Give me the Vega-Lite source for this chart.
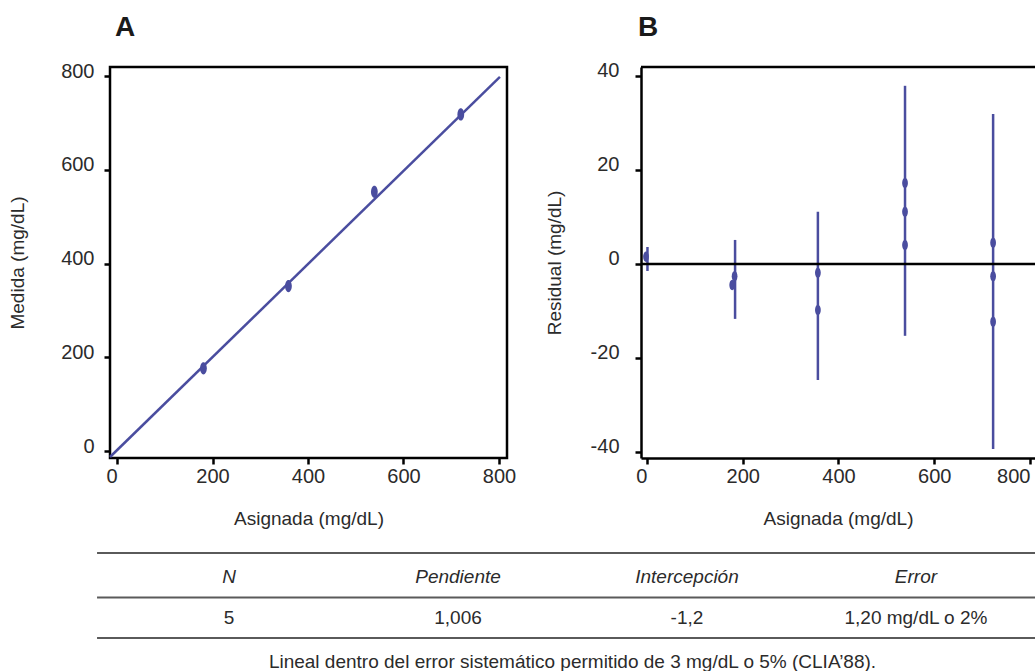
{
  "$schema": "https://vega.github.io/schema/vega-lite/v6.json",
  "background": "white",
  "padding": {"left": 7, "top": 12, "right": 0, "bottom": 0},
  "config": {
    "font": "Liberation Sans",
    "view": {"stroke": null},
    "axis": {
      "labelFont": "Liberation Sans",
      "titleFont": "Liberation Sans",
      "labelFontSize": 20,
      "titleFontSize": 19,
      "titleFontWeight": "normal",
      "labelColor": "#2b2b2b",
      "titleColor": "#2b2b2b",
      "tickColor": "black",
      "tickWidth": 2.5,
      "tickSize": 6,
      "domainColor": "black",
      "domainWidth": 2.5,
      "grid": false,
      "labelExpr": "'' + datum.value"
    }
  },
  "datasets": {
    "ajuste": [
      {"asignada": -14.7, "medida": -12.8},
      {"asignada": 802, "medida": 798}
    ],
    "medidas": [
      {"asignada": 181, "medida": 176.4},
      {"asignada": 359, "medida": 352},
      {"asignada": 539, "medida": 553},
      {"asignada": 720, "medida": 718}
    ],
    "residuales": [
      {"asignada": -2, "residual": 1.5},
      {"asignada": 183, "residual": -2.6},
      {"asignada": 178, "residual": -4.5},
      {"asignada": 357, "residual": -1.9},
      {"asignada": 357, "residual": -9.8},
      {"asignada": 539, "residual": 17.2},
      {"asignada": 539, "residual": 11.1},
      {"asignada": 539, "residual": 4.0},
      {"asignada": 723, "residual": 4.5},
      {"asignada": 723, "residual": -2.6},
      {"asignada": 723, "residual": -12.3}
    ],
    "barras": [
      {"asignada": 1, "inferior": -1.5, "superior": 3.6},
      {"asignada": 184, "inferior": -11.7, "superior": 5.1},
      {"asignada": 357, "inferior": -24.7, "superior": 11.1},
      {"asignada": 539, "inferior": -15.3, "superior": 37.9},
      {"asignada": 723, "inferior": -39.4, "superior": 31.9}
    ],
    "tabla": [
      {"columna": "N", "fila": 0, "texto": "N"},
      {"columna": "Pendiente", "fila": 0, "texto": "Pendiente"},
      {"columna": "Intercepción", "fila": 0, "texto": "Intercepción"},
      {"columna": "Error", "fila": 0, "texto": "Error"},
      {"columna": "N", "fila": 1, "texto": "5"},
      {"columna": "Pendiente", "fila": 1, "texto": "1,006"},
      {"columna": "Intercepción", "fila": 1, "texto": "-1,2"},
      {"columna": "Error", "fila": 1, "texto": "1,20 mg/dL o 2%"}
    ]
  },
  "spacing": 22,
  "vconcat": [
    {
      "bounds": "flush",
      "spacing": 134,
      "hconcat": [
        {
          "width": 397,
          "height": 391,
          "view": {"stroke": "black", "strokeWidth": 2.5},
          "title": {"text": "A", "anchor": "start", "frame": "group", "font": "Liberation Sans Narrow, Liberation Sans", "fontSize": 28, "fontWeight": "bold", "color": "#1a1a1a", "dx": 5, "offset": -3, "baseline": "alphabetic"},
          "layer": [
            {
              "data": {"name": "ajuste"},
              "mark": {"type": "line", "color": "#4a4d9f", "strokeWidth": 2.5},
              "encoding": {
                "x": {"field": "asignada", "type": "quantitative", "title": "Asignada (mg/dL)",
                  "scale": {"domain": [-14.7, 816.8], "nice": false, "zero": false},
                  "axis": {"values": [0, 200, 400, 600, 800], "domain": false, "labelPadding": 2, "titlePadding": 23,
                    "labelAlign": {"condition": {"test": "datum.value === 0", "value": "right"}, "value": "center"}}},
                "y": {"field": "medida", "type": "quantitative", "title": "Medida (mg/dL)",
                  "scale": {"domain": [-14.9, 819.2], "nice": false, "zero": false},
                  "axis": {"values": [0, 200, 400, 600, 800], "domain": false, "labelPadding": 10, "labelOffset": -5, "titlePadding": 33}}
              }
            },
            {
              "data": {"name": "medidas"},
              "mark": {"type": "point", "shape": "M0,-1C0.304,-1 0.55,-0.552 0.55,0C0.55,0.552 0.304,1 0,1C-0.304,1 -0.55,0.552 -0.55,0C-0.55,-0.552 -0.304,-1 0,-1Z", "filled": true, "size": 150, "color": "#4a4d9f", "opacity": 1},
              "encoding": {
                "x": {"field": "asignada", "type": "quantitative"},
                "y": {"field": "medida", "type": "quantitative"}
              }
            }
          ]
        },
        {
          "width": 394,
          "height": 391,
          "title": {"text": "B", "anchor": "start", "frame": "group", "font": "Liberation Sans Narrow, Liberation Sans", "fontSize": 28, "fontWeight": "bold", "color": "#1a1a1a", "dx": -3, "offset": -3, "baseline": "alphabetic"},
          "layer": [
            {
              "data": {"name": "barras"},
              "mark": {"type": "rule", "color": "#4a4d9f", "strokeWidth": 2.5},
              "encoding": {
                "x": {"field": "asignada", "type": "quantitative", "title": "Asignada (mg/dL)",
                  "scale": {"domain": [-12.5, 810.5], "nice": false, "zero": false},
                  "axis": {"values": [0, 200, 400, 600, 800], "labelPadding": 2, "titlePadding": 23,
                    "labelAlign": {"condition": {"test": "datum.value === 0 || datum.value === 800", "value": "right"}, "value": "center"}}},
                "y": {"field": "inferior", "type": "quantitative", "title": "Residual (mg/dL)",
                  "scale": {"domain": [-41.3, 41.9], "nice": false, "zero": false},
                  "axis": {"values": [-40, -20, 0, 20, 40], "labelPadding": 16, "labelOffset": -5, "titlePadding": 26}},
                "y2": {"field": "superior"}
              }
            },
            {
              "data": {"values": [{}]},
              "mark": {"type": "rule", "color": "black", "strokeWidth": 2.5},
              "encoding": {"y": {"datum": 41.9, "type": "quantitative", "title": "Residual (mg/dL)"}}
            },
            {
              "data": {"values": [{}]},
              "mark": {"type": "rule", "color": "black", "strokeWidth": 2.5},
              "encoding": {"y": {"datum": 0, "type": "quantitative", "title": "Residual (mg/dL)"}}
            },
            {
              "data": {"name": "residuales"},
              "mark": {"type": "point", "shape": "M0,-1C0.304,-1 0.55,-0.552 0.55,0C0.55,0.552 0.304,1 0,1C-0.304,1 -0.55,0.552 -0.55,0C-0.55,-0.552 -0.304,-1 0,-1Z", "filled": true, "size": 110, "color": "#4a4d9f", "opacity": 1},
              "encoding": {
                "x": {"field": "asignada", "type": "quantitative"},
                "y": {"field": "residual", "type": "quantitative", "title": "Residual (mg/dL)"}
              }
            }
          ]
        }
      ]
    },
    {
      "width": 925,
      "height": 85,
      "title": {"text": "Lineal dentro del error sistemático permitido de 3 mg/dL o 5% (CLIA’88).", "orient": "bottom", "anchor": "middle", "frame": "group", "font": "Liberation Sans", "fontSize": 19, "fontWeight": "normal", "color": "#2b2b2b", "offset": 29, "baseline": "alphabetic"},
      "resolve": {"scale": {"x": "independent"}},
      "layer": [
        {
          "data": {"values": [{}]},
          "mark": {"type": "rule", "color": "#5a5a5a", "strokeWidth": 2},
          "encoding": {
            "x": {"datum": -0.014, "type": "quantitative", "scale": {"domain": [0, 1], "nice": false, "zero": false}, "axis": null},
            "x2": {"datum": 1},
            "y": {"datum": -0.6, "type": "quantitative",
              "scale": {"domain": [-0.6, 1.5], "reverse": true, "nice": false, "zero": false}, "axis": null}}
        },
        {
          "data": {"values": [{}]},
          "mark": {"type": "rule", "color": "#5a5a5a", "strokeWidth": 2},
          "encoding": {
            "x": {"datum": -0.014, "type": "quantitative", "scale": {"domain": [0, 1], "nice": false, "zero": false}, "axis": null},
            "x2": {"datum": 1},
            "y": {"datum": 0.5, "type": "quantitative"}}
        },
        {
          "data": {"values": [{}]},
          "mark": {"type": "rule", "color": "#5a5a5a", "strokeWidth": 2},
          "encoding": {
            "x": {"datum": -0.014, "type": "quantitative", "scale": {"domain": [0, 1], "nice": false, "zero": false}, "axis": null},
            "x2": {"datum": 1},
            "y": {"datum": 1.5, "type": "quantitative"}}
        },
        {
          "data": {"name": "tabla"},
          "transform": [{"filter": "datum.fila === 0"}],
          "mark": {"type": "text", "fontSize": 19, "fontStyle": "italic", "color": "#2b2b2b", "baseline": "middle"},
          "encoding": {
            "x": {"field": "columna", "type": "nominal", "sort": ["N", "Pendiente", "Intercepción", "Error"], "scale": {"type": "point", "padding": 0.52}, "axis": null},
            "y": {"field": "fila", "type": "quantitative"},
            "text": {"field": "texto"}
          }
        },
        {
          "data": {"name": "tabla"},
          "transform": [{"filter": "datum.fila === 1"}],
          "mark": {"type": "text", "fontSize": 19, "color": "#2b2b2b", "baseline": "middle"},
          "encoding": {
            "x": {"field": "columna", "type": "nominal", "sort": ["N", "Pendiente", "Intercepción", "Error"], "scale": {"type": "point", "padding": 0.52}, "axis": null},
            "y": {"field": "fila", "type": "quantitative"},
            "text": {"field": "texto"}
          }
        }
      ]
    }
  ]
}
